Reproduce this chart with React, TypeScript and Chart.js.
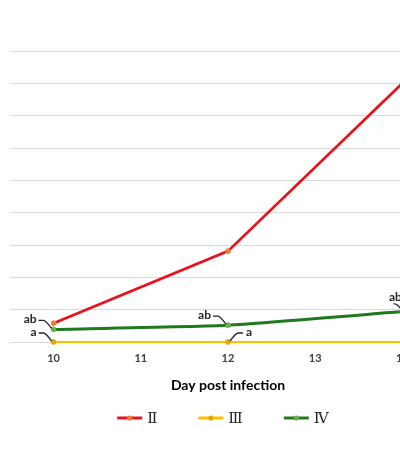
import { useEffect, useRef } from 'react';
import { Chart, registerables } from 'chart.js';

Chart.register(...registerables);

const categories = ['10', '11', '12', '13', '14'];
const seriesNames = ['Ⅱ', 'Ⅲ', 'Ⅳ'];
const seriesII = [0.58, null, 2.81, null, 8.0];
const seriesIII = [0, null, 0, null, 0];
const seriesIV = [0.39, null, 0.52, null, 0.94];
const lineColors = ['#E8141B', '#FFC000', '#1F7A1F'];
const markerColors = ['#ED7D31', '#E6A800', '#70AD47'];
const lineWidths = [2.8, 2.2, 3];
const noteTexts = ['ab', 'a', 'ab', 'a', 'ab'];
const noteSeries = [2, 1, 2, 1, 2];
const noteIndex = [0, 0, 2, 2, 4];
const noteSide = ['left', 'left', 'left', 'right', 'up'];
const xTitle = 'Day post infection';
const yMin = 0;
const yMax = 9;
const yStep = 1;

const FONT = "Lato, 'Open Sans', sans-serif";

const notesPlugin = {
  id: 'notes',
  afterDatasetsDraw(chart: any) {
    const ctx = chart.ctx as CanvasRenderingContext2D;
    ctx.save();
    ctx.font = `bold 12px ${FONT}`;
    ctx.fillStyle = '#262626';
    ctx.strokeStyle = '#262626';
    ctx.lineWidth = 1.3;
    noteTexts.forEach((t, i) => {
      const el = chart.getDatasetMeta(noteSeries[i]).data[noteIndex[i]];
      if (!el) return;
      const px = el.x;
      const py = el.y;
      const side = noteSide[i];
      ctx.beginPath();
      if (side === 'left') {
        ctx.moveTo(px - 15, py - 9);
        ctx.lineTo(px - 10, py - 9);
        ctx.quadraticCurveTo(px - 8, py - 9, px - 2, py - 1);
        ctx.stroke();
        ctx.textAlign = 'right';
        ctx.textBaseline = 'middle';
        ctx.fillText(t, px - 17, py - 10);
      } else if (side === 'right') {
        ctx.moveTo(px + 2, py - 1);
        ctx.quadraticCurveTo(px + 8, py - 9, px + 10, py - 9);
        ctx.lineTo(px + 15, py - 9);
        ctx.stroke();
        ctx.textAlign = 'left';
        ctx.textBaseline = 'middle';
        ctx.fillText(t, px + 18, py - 10);
      } else {
        ctx.moveTo(px - 1, py - 2);
        ctx.quadraticCurveTo(px - 5, py - 8, px - 9, py - 8);
        ctx.stroke();
        ctx.textAlign = 'center';
        ctx.textBaseline = 'middle';
        ctx.fillText(t, px - 7, py - 14);
      }
    });
    ctx.restore();
  },
};

const legendPlugin = {
  id: 'customLegend',
  afterDraw(chart: any, _args: any, opts: any) {
    const ctx = chart.ctx as CanvasRenderingContext2D;
    ctx.save();
    ctx.font = opts.font;
    const symW = 25;
    const gapText = 5;
    const gapItem = 41;
    const widths = seriesNames.map((n) => symW + gapText + ctx.measureText(n).width);
    const total = widths.reduce((a, b) => a + b, 0) + gapItem * (seriesNames.length - 1);
    let x = opts.centerX - total / 2;
    const y = opts.y;
    seriesNames.forEach((n, i) => {
      ctx.strokeStyle = lineColors[i];
      ctx.lineWidth = 3;
      ctx.beginPath();
      ctx.moveTo(x, y);
      ctx.lineTo(x + symW, y);
      ctx.stroke();
      ctx.fillStyle = markerColors[i];
      ctx.beginPath();
      ctx.arc(x + symW / 2, y, 2.6, 0, Math.PI * 2);
      ctx.fill();
      ctx.fillStyle = '#262626';
      ctx.textAlign = 'left';
      ctx.textBaseline = 'middle';
      ctx.fillText(n, x + symW + gapText, y + 1);
      x += widths[i] + gapItem;
    });
    ctx.restore();
  },
};

export default function App() {
  const ref = useRef<HTMLCanvasElement>(null);
  useEffect(() => {
    const series = [seriesII, seriesIII, seriesIV];
    const chart = new Chart(ref.current as HTMLCanvasElement, {
      type: 'line',
      data: {
        labels: categories,
        datasets: series.map((d, i) => ({
          label: seriesNames[i],
          data: d,
          borderColor: lineColors[i],
          backgroundColor: lineColors[i],
          borderWidth: lineWidths[i],
          pointBackgroundColor: markerColors[i],
          pointBorderColor: markerColors[i],
          pointBorderWidth: 1,
          pointRadius: 2.4,
          spanGaps: true,
          clip: 8,
          tension: i === 2 ? 0.15 : 0,
          order: i === 1 ? 3 : i === 2 ? 2 : 1,
        })),
      },
      options: {
        animation: false,
        responsive: true,
        maintainAspectRatio: false,
        layout: { padding: { left: 10, right: 14, top: 51, bottom: 56 } },
        plugins: {
          legend: { display: false },
          tooltip: { enabled: false },
          customLegend: { font: "15px 'DejaVu Serif', 'Liberation Serif', serif", centerX: 223, y: 418 },
        } as any,
        scales: {
          x: {
            type: 'category',
            offset: true,
            grid: { display: false, drawTicks: false },
            border: { display: false },
            ticks: { font: { family: FONT, size: 11, weight: 'bold' }, color: '#404040', padding: 10 },
            title: {
              display: true,
              text: xTitle,
              font: { family: FONT, size: 14, weight: 'bold' },
              color: '#000000',
              padding: { top: 2, bottom: 0 },
            },
          },
          y: {
            min: yMin,
            max: yMax,
            ticks: { display: false, stepSize: yStep },
            grid: { color: '#D9D9D9', lineWidth: 1, drawTicks: false },
            border: { display: false },
          },
        },
      },
      plugins: [notesPlugin, legendPlugin],
    });
    return () => chart.destroy();
  }, []);
  return (
    <div
      style={{
        position: 'fixed',
        left: 0,
        top: 0,
        width: 400,
        height: 450,
        overflow: 'hidden',
        background: '#ffffff',
      }}
    >
      <div style={{ position: 'absolute', left: 0, top: 0, width: 460, height: 450 }}>
        <canvas ref={ref} />
      </div>
    </div>
  );
}
